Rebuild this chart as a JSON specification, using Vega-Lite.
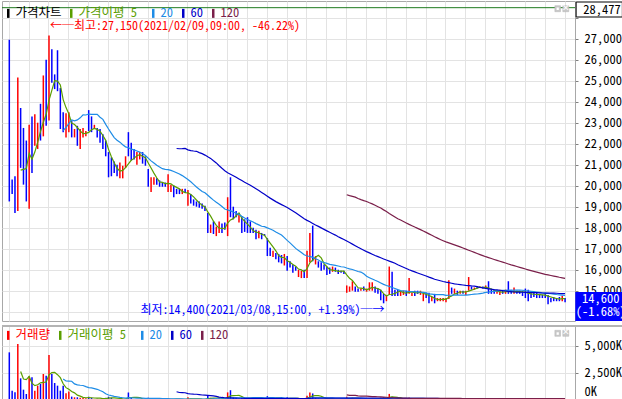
{
"$schema":"https://vega.github.io/schema/vega-lite/v6.json",
"padding":0,
"background":"white",
"spacing":2,
"config":{"view":{"stroke":"#a8a8a8","strokeWidth":1},"font":"Noto Sans Mono CJK KR, Noto Sans CJK KR, sans-serif","axis":{"labelFont":"Noto Sans Mono CJK KR, Noto Sans CJK KR, sans-serif","labelFontSize":12.5,"labelColor":"#000000","labelOverlap":false},"legend":{"labelFont":"Noto Sans Mono CJK KR, Noto Sans CJK KR, sans-serif","labelFontSize":12.5},"text":{"font":"Noto Sans Mono CJK KR, Noto Sans CJK KR, sans-serif","fontSize":12}},
"resolve":{"scale":{"x":"independent","y":"independent","color":"independent"},"legend":{"color":"independent"}},
"datasets":{"c":[
{"i":0,"o":25000,"h":26950,"l":19250,"c":20300,"v":4385},
{"i":1,"o":20200,"h":20300,"l":19600,"c":19700,"v":858},
{"i":2,"o":20100,"h":20450,"l":18700,"c":19000,"v":705},
{"i":3,"o":19100,"h":25150,"l":18800,"c":23400,"v":5152},
{"i":4,"o":23300,"h":23700,"l":20850,"c":21300,"v":1993},
{"i":5,"o":21700,"h":22750,"l":20050,"c":20500,"v":950},
{"i":6,"o":21500,"h":22150,"l":19250,"c":19900,"v":552},
{"i":7,"o":19500,"h":22900,"l":18900,"c":22600,"v":2177},
{"i":8,"o":22700,"h":23300,"l":20600,"c":22000,"v":2085},
{"i":9,"o":22100,"h":23400,"l":21900,"c":23000,"v":858},
{"i":10,"o":22000,"h":23000,"l":21750,"c":22800,"v":1318},
{"i":11,"o":23500,"h":23900,"l":22150,"c":22500,"v":1471},
{"i":12,"o":22600,"h":25250,"l":22350,"c":24800,"v":2392},
{"i":13,"o":25500,"h":26000,"l":22850,"c":23900,"v":2238},
{"i":14,"o":23500,"h":27150,"l":23100,"c":26300,"v":4140},
{"i":15,"o":26300,"h":26500,"l":24900,"c":25200,"v":2392},
{"i":16,"o":25200,"h":25300,"l":24600,"c":24800,"v":1563},
{"i":17,"o":26000,"h":26450,"l":24500,"c":24700,"v":1318},
{"i":18,"o":24600,"h":24650,"l":22700,"c":23000,"v":858},
{"i":19,"o":23300,"h":23500,"l":22550,"c":22800,"v":1318},
{"i":20,"o":22500,"h":23450,"l":22300,"c":23300,"v":625},
{"i":21,"o":22800,"h":23500,"l":22550,"c":23300,"v":781},
{"i":22,"o":23000,"h":23100,"l":22300,"c":22500,"v":312},
{"i":23,"o":22400,"h":22700,"l":22300,"c":22650,"v":250},
{"i":24,"o":22600,"h":22850,"l":21900,"c":22100,"v":250},
{"i":25,"o":21900,"h":22700,"l":21750,"c":22500,"v":200},
{"i":26,"o":22400,"h":22750,"l":22300,"c":22650,"v":180},
{"i":27,"o":22400,"h":22600,"l":22350,"c":22550,"v":150},
{"i":28,"o":23300,"h":23600,"l":22600,"c":22900,"v":300},
{"i":29,"o":23200,"h":23300,"l":22550,"c":22700,"v":200},
{"i":30,"o":22700,"h":22900,"l":22700,"c":22850,"v":100},
{"i":31,"o":22700,"h":22750,"l":22300,"c":22400,"v":120},
{"i":32,"o":22450,"h":22700,"l":22050,"c":22150,"v":100},
{"i":33,"o":22200,"h":22450,"l":21750,"c":21850,"v":150},
{"i":34,"o":21900,"h":22150,"l":21400,"c":21550,"v":200},
{"i":35,"o":21500,"h":21600,"l":20400,"c":20700,"v":300},
{"i":36,"o":21000,"h":21350,"l":20450,"c":20650,"v":200},
{"i":37,"o":21000,"h":21150,"l":20600,"c":20700,"v":100},
{"i":38,"o":20850,"h":21000,"l":20450,"c":20550,"v":90},
{"i":39,"o":20450,"h":21100,"l":20350,"c":20900,"v":80},
{"i":40,"o":20500,"h":20950,"l":20350,"c":20850,"v":80},
{"i":41,"o":20900,"h":21400,"l":20850,"c":21300,"v":100},
{"i":42,"o":22300,"h":22550,"l":21400,"c":21600,"v":690},
{"i":43,"o":21800,"h":22050,"l":21200,"c":21400,"v":200},
{"i":44,"o":21650,"h":21750,"l":21250,"c":21350,"v":100},
{"i":45,"o":21150,"h":21600,"l":21000,"c":21500,"v":80},
{"i":46,"o":21300,"h":21600,"l":21250,"c":21550,"v":60},
{"i":47,"o":21500,"h":21600,"l":21050,"c":21200,"v":60},
{"i":48,"o":21300,"h":21400,"l":20950,"c":21050,"v":50},
{"i":49,"o":20700,"h":20800,"l":19950,"c":20100,"v":200},
{"i":50,"o":19800,"h":20400,"l":19700,"c":20300,"v":150},
{"i":51,"o":20100,"h":20400,"l":20050,"c":20350,"v":60},
{"i":52,"o":20300,"h":20350,"l":20050,"c":20100,"v":40},
{"i":53,"o":20200,"h":20250,"l":19950,"c":20050,"v":30},
{"i":54,"o":20100,"h":20150,"l":19950,"c":20000,"v":30},
{"i":55,"o":20100,"h":20150,"l":19950,"c":20000,"v":30},
{"i":56,"o":19800,"h":20550,"l":19700,"c":20400,"v":150},
{"i":57,"o":19800,"h":20050,"l":19700,"c":20000,"v":60},
{"i":58,"o":19950,"h":20000,"l":19450,"c":19550,"v":80},
{"i":59,"o":19800,"h":19850,"l":19600,"c":19650,"v":40},
{"i":60,"o":19800,"h":19850,"l":19600,"c":19650,"v":40},
{"i":61,"o":19650,"h":19850,"l":19600,"c":19800,"v":60},
{"i":62,"o":19800,"h":19850,"l":19650,"c":19700,"v":30},
{"i":63,"o":19100,"h":19800,"l":19050,"c":19500,"v":250},
{"i":64,"o":19500,"h":19600,"l":19150,"c":19250,"v":120},
{"i":65,"o":19300,"h":19350,"l":19050,"c":19100,"v":80},
{"i":66,"o":19200,"h":19250,"l":19000,"c":19050,"v":60},
{"i":67,"o":19100,"h":19250,"l":18950,"c":19000,"v":50},
{"i":68,"o":19050,"h":19150,"l":18900,"c":18950,"v":60},
{"i":69,"o":19000,"h":19050,"l":18800,"c":18850,"v":50},
{"i":70,"o":18650,"h":18700,"l":17750,"c":17900,"v":400},
{"i":71,"o":17850,"h":18150,"l":17750,"c":18050,"v":200},
{"i":72,"o":18200,"h":18300,"l":17700,"c":17800,"v":150},
{"i":73,"o":17700,"h":18050,"l":17600,"c":17950,"v":120},
{"i":74,"o":17900,"h":18300,"l":17750,"c":18200,"v":150},
{"i":75,"o":18150,"h":18200,"l":17750,"c":17850,"v":100},
{"i":76,"o":18150,"h":18250,"l":17900,"c":18000,"v":60},
{"i":77,"o":17700,"h":19450,"l":17600,"c":19100,"v":700},
{"i":78,"o":19200,"h":20400,"l":18500,"c":18700,"v":900},
{"i":79,"o":18900,"h":19000,"l":18400,"c":18500,"v":250},
{"i":80,"o":18750,"h":18800,"l":18500,"c":18550,"v":150},
{"i":81,"o":18350,"h":18700,"l":18250,"c":18650,"v":120},
{"i":82,"o":18500,"h":18550,"l":17750,"c":17900,"v":200},
{"i":83,"o":18300,"h":18400,"l":17800,"c":17900,"v":150},
{"i":84,"o":18300,"h":18500,"l":17750,"c":17850,"v":180},
{"i":85,"o":18200,"h":18300,"l":17750,"c":17850,"v":120},
{"i":86,"o":17950,"h":18000,"l":17750,"c":17800,"v":80},
{"i":87,"o":17850,"h":17900,"l":17450,"c":17550,"v":150},
{"i":88,"o":17550,"h":17850,"l":17500,"c":17750,"v":100},
{"i":89,"o":17700,"h":17750,"l":17450,"c":17500,"v":80},
{"i":90,"o":17700,"h":17700,"l":17600,"c":17600,"v":50},
{"i":91,"o":17450,"h":17500,"l":16650,"c":16800,"v":350},
{"i":92,"o":16950,"h":17050,"l":16650,"c":16700,"v":200},
{"i":93,"o":16650,"h":16900,"l":16600,"c":16850,"v":120},
{"i":94,"o":16750,"h":16800,"l":16500,"c":16550,"v":100},
{"i":95,"o":16650,"h":16750,"l":16350,"c":16450,"v":120},
{"i":96,"o":16500,"h":16700,"l":16300,"c":16400,"v":100},
{"i":97,"o":16300,"h":16750,"l":16200,"c":16650,"v":120},
{"i":98,"o":16550,"h":16650,"l":15950,"c":16100,"v":250},
{"i":99,"o":16350,"h":16400,"l":16100,"c":16150,"v":120},
{"i":100,"o":16200,"h":16250,"l":15850,"c":15950,"v":150},
{"i":101,"o":16100,"h":16150,"l":15950,"c":16000,"v":80},
{"i":102,"o":15700,"h":16000,"l":15650,"c":15950,"v":120},
{"i":103,"o":15650,"h":15950,"l":15600,"c":15900,"v":100},
{"i":104,"o":15950,"h":16000,"l":15600,"c":15700,"v":80},
{"i":105,"o":15700,"h":16900,"l":15600,"c":16700,"v":400},
{"i":106,"o":16600,"h":17750,"l":16350,"c":17400,"v":700},
{"i":107,"o":17500,"h":18100,"l":16400,"c":16600,"v":600},
{"i":108,"o":16350,"h":16650,"l":16250,"c":16550,"v":200},
{"i":109,"o":16350,"h":16400,"l":16100,"c":16200,"v":120},
{"i":110,"o":16300,"h":16350,"l":15950,"c":16050,"v":100},
{"i":111,"o":16200,"h":16250,"l":16000,"c":16050,"v":60},
{"i":112,"o":16100,"h":16150,"l":15750,"c":15850,"v":150},
{"i":113,"o":16050,"h":16100,"l":15800,"c":15850,"v":100},
{"i":114,"o":15950,"h":16150,"l":15900,"c":16100,"v":80},
{"i":115,"o":16050,"h":16100,"l":15900,"c":15950,"v":60},
{"i":116,"o":15950,"h":16000,"l":15800,"c":15850,"v":60},
{"i":117,"o":15950,"h":15950,"l":15850,"c":15900,"v":40},
{"i":118,"o":15900,"h":15950,"l":15800,"c":15850,"v":50},
{"i":119,"o":14950,"h":15250,"l":14900,"c":15200,"v":300},
{"i":120,"o":15000,"h":15200,"l":14950,"c":15150,"v":150},
{"i":121,"o":15050,"h":15450,"l":15000,"c":15350,"v":200},
{"i":122,"o":15150,"h":15200,"l":14950,"c":15000,"v":100},
{"i":123,"o":15050,"h":15100,"l":14950,"c":15000,"v":60},
{"i":124,"o":15000,"h":15100,"l":15000,"c":15100,"v":50},
{"i":125,"o":15150,"h":15200,"l":15000,"c":15050,"v":50},
{"i":126,"o":15000,"h":15100,"l":14950,"c":15050,"v":80},
{"i":127,"o":15050,"h":15400,"l":15000,"c":15300,"v":150},
{"i":128,"o":15100,"h":15400,"l":15000,"c":15300,"v":120},
{"i":129,"o":15150,"h":15200,"l":14900,"c":14950,"v":100},
{"i":130,"o":15050,"h":15100,"l":14850,"c":14900,"v":120},
{"i":131,"o":14950,"h":15050,"l":14550,"c":14650,"v":200},
{"i":132,"o":14800,"h":14850,"l":14400,"c":14500,"v":250},
{"i":133,"o":14550,"h":14800,"l":14500,"c":14750,"v":150},
{"i":134,"o":14800,"h":16150,"l":14800,"c":15300,"v":560},
{"i":135,"o":15600,"h":15900,"l":14750,"c":14950,"v":300},
{"i":136,"o":15000,"h":15050,"l":14750,"c":14850,"v":100},
{"i":137,"o":15000,"h":15050,"l":14750,"c":14850,"v":80},
{"i":138,"o":14800,"h":15000,"l":14750,"c":14950,"v":60},
{"i":139,"o":14850,"h":15000,"l":14800,"c":14950,"v":60},
{"i":140,"o":14950,"h":15000,"l":14750,"c":14800,"v":100},
{"i":141,"o":14850,"h":15600,"l":14850,"c":15100,"v":230},
{"i":142,"o":14800,"h":14900,"l":14750,"c":14900,"v":80},
{"i":143,"o":14950,"h":15000,"l":14750,"c":14800,"v":60},
{"i":144,"o":14950,"h":15000,"l":14850,"c":14900,"v":50},
{"i":145,"o":14850,"h":15000,"l":14800,"c":14950,"v":50},
{"i":146,"o":14550,"h":14850,"l":14500,"c":14800,"v":60},
{"i":147,"o":14850,"h":14900,"l":14650,"c":14700,"v":50},
{"i":148,"o":14850,"h":14900,"l":14400,"c":14500,"v":80},
{"i":149,"o":14550,"h":14700,"l":14500,"c":14650,"v":40},
{"i":150,"o":14800,"h":14850,"l":14400,"c":14500,"v":70},
{"i":151,"o":14500,"h":14650,"l":14500,"c":14600,"v":40},
{"i":152,"o":14550,"h":14650,"l":14500,"c":14600,"v":30},
{"i":153,"o":14550,"h":14650,"l":14500,"c":14650,"v":30},
{"i":154,"o":14500,"h":14650,"l":14450,"c":14600,"v":40},
{"i":155,"o":14650,"h":15500,"l":14600,"c":15000,"v":180},
{"i":156,"o":15100,"h":15150,"l":14850,"c":14900,"v":80},
{"i":157,"o":14900,"h":15100,"l":14850,"c":15050,"v":60},
{"i":158,"o":14950,"h":15000,"l":14800,"c":14850,"v":40},
{"i":159,"o":14850,"h":15000,"l":14850,"c":14950,"v":40},
{"i":160,"o":14950,"h":15000,"l":14850,"c":14900,"v":30},
{"i":161,"o":14850,"h":15000,"l":14800,"c":14950,"v":30},
{"i":162,"o":15000,"h":15650,"l":15000,"c":15250,"v":150},
{"i":163,"o":15200,"h":15200,"l":15050,"c":15100,"v":60},
{"i":164,"o":15100,"h":15150,"l":15050,"c":15150,"v":40},
{"i":165,"o":15200,"h":15200,"l":15100,"c":15150,"v":30},
{"i":166,"o":15150,"h":15200,"l":15150,"c":15200,"v":30},
{"i":167,"o":15200,"h":15200,"l":15100,"c":15150,"v":30},
{"i":168,"o":15150,"h":15250,"l":15150,"c":15200,"v":30},
{"i":169,"o":15250,"h":15450,"l":14850,"c":14950,"v":120},
{"i":170,"o":15000,"h":15100,"l":14850,"c":14900,"v":60},
{"i":171,"o":15000,"h":15050,"l":14850,"c":14900,"v":40},
{"i":172,"o":14900,"h":15000,"l":14850,"c":14950,"v":40},
{"i":173,"o":14850,"h":15050,"l":14800,"c":15000,"v":40},
{"i":174,"o":15000,"h":15000,"l":14850,"c":14900,"v":30},
{"i":175,"o":14900,"h":15050,"l":14850,"c":15000,"v":30},
{"i":176,"o":15100,"h":15450,"l":14850,"c":14950,"v":100},
{"i":177,"o":15000,"h":15050,"l":14850,"c":14900,"v":50},
{"i":178,"o":14900,"h":15150,"l":14850,"c":15050,"v":40},
{"i":179,"o":15000,"h":15000,"l":14850,"c":14950,"v":30},
{"i":180,"o":15000,"h":15000,"l":14850,"c":14950,"v":40},
{"i":181,"o":14950,"h":15000,"l":14750,"c":14850,"v":60},
{"i":182,"o":14950,"h":15100,"l":14650,"c":14850,"v":30},
{"i":183,"o":14900,"h":15050,"l":14500,"c":14800,"v":90},
{"i":184,"o":14850,"h":14900,"l":14650,"c":14800,"v":50},
{"i":185,"o":14900,"h":14900,"l":14700,"c":14850,"v":30},
{"i":186,"o":14850,"h":14900,"l":14650,"c":14800,"v":30},
{"i":187,"o":14850,"h":14850,"l":14650,"c":14800,"v":40},
{"i":188,"o":14800,"h":14800,"l":14650,"c":14750,"v":30},
{"i":189,"o":14800,"h":14850,"l":14650,"c":14750,"v":30},
{"i":190,"o":14750,"h":14800,"l":14350,"c":14600,"v":80},
{"i":191,"o":14650,"h":14650,"l":14450,"c":14600,"v":40},
{"i":192,"o":14650,"h":14700,"l":14500,"c":14600,"v":30},
{"i":193,"o":14650,"h":14650,"l":14500,"c":14600,"v":30},
{"i":194,"o":14650,"h":14700,"l":14500,"c":14600,"v":40},
{"i":195,"o":14550,"h":14750,"l":14500,"c":14700,"v":30},
{"i":196,"o":14650,"h":14650,"l":14450,"c":14600,"v":40}
]},
"vconcat":[
{
"width":573,"height":320,
"layer":[
{"data":{"name":"c"},"mark":{"type":"rule","strokeWidth":1.5},
 "encoding":{
  "x":{"field":"i","type":"quantitative","scale":{"domain":[-2.575,199.5],"nice":false,"zero":false},"axis":{"values":[-0.2,6.8,13.8,20.8,27.8,34.8,41.8,48.8,55.8,62.8,69.8,76.8,83.8,90.8,97.8,104.8,111.8,118.8,125.8,132.8,139.8,146.8,153.8,160.8,167.8,174.8,181.8,188.8,195.8],"tickCount":60,"grid":true,"gridColor":"#e3e3e3","labels":false,"ticks":false,"domain":false,"title":null}},
  "y":{"field":"l","type":"quantitative","scale":{"domain":[13557,28795],"nice":false,"zero":false},"axis":{"orient":"right","values":[14000,15000,16000,17000,18000,19000,20000,21000,22000,23000,24000,25000,26000,27000,28000],"tickCount":40,"labelExpr":"datum.value>=15000 && datum.value<=27000 ? format(datum.value, ',') : ''","labelOverlap":false,"grid":true,"gridColor":"#e3e3e3","tickSize":3,"tickColor":"#808080","domain":false,"labelPadding":6,"title":null}},
  "y2":{"field":"h"},
  "color":{"condition":{"test":"datum.c >= datum.o","value":"#ff0000"},"value":"#0000ff"}}},
{"data":{"values":[{}]},"mark":{"type":"rule","color":"#1f7a1f","strokeWidth":1},"encoding":{"y":{"datum":28477}}},
{"data":{"name":"c"},"transform":[{"window":[{"op":"mean","field":"c","as":"m"}],"frame":[-4,0],"sort":[{"field":"i"}]},{"filter":{"field":"i","gte":4}}],
 "mark":{"type":"line","strokeWidth":1.2},
 "encoding":{"x":{"field":"i","type":"quantitative"},"y":{"field":"m","type":"quantitative"},
  "color":{"datum":"가격이평  5","type":"nominal","scale":{"domain":["가격차트","가격이평  5","20","60","120"],"range":["#000000","#5a9e00","#1e8ce6","#0000c8","#7a1f4a"]},
   "legend":{"title":null,"orient":"none","legendX":0,"legendY":6,"direction":"horizontal","padding":0,"symbolType":"M0,-1L0,1","symbolSize":81,"symbolStrokeWidth":2.5,"labelOffset":1,"columnPadding":3,"labelFontSize":12.5,
   "labelColor":{"expr":"datum.value=='가격차트' ? '#000000' : datum.value=='가격이평  5' ? '#5a9e00' : datum.value=='20' ? '#1e8ce6' : datum.value=='60' ? '#0000c8' : '#7a1f4a'"}}}}},
{"data":{"name":"c"},"transform":[{"window":[{"op":"mean","field":"c","as":"m"}],"frame":[-19,0],"sort":[{"field":"i"}]},{"filter":{"field":"i","gte":19}}],
 "mark":{"type":"line","strokeWidth":1.2},
 "encoding":{"x":{"field":"i","type":"quantitative"},"y":{"field":"m","type":"quantitative"},"color":{"datum":"20","type":"nominal"}}},
{"data":{"name":"c"},"transform":[{"window":[{"op":"mean","field":"c","as":"m"}],"frame":[-59,0],"sort":[{"field":"i"}]},{"filter":{"field":"i","gte":59}}],
 "mark":{"type":"line","strokeWidth":1.2},
 "encoding":{"x":{"field":"i","type":"quantitative"},"y":{"field":"m","type":"quantitative"},"color":{"datum":"60","type":"nominal"}}},
{"data":{"name":"c"},"transform":[{"window":[{"op":"mean","field":"c","as":"m"}],"frame":[-119,0],"sort":[{"field":"i"}]},{"filter":{"field":"i","gte":119}}],
 "mark":{"type":"line","strokeWidth":1.2},
 "encoding":{"x":{"field":"i","type":"quantitative"},"y":{"field":"m","type":"quantitative"},"color":{"datum":"120","type":"nominal"}}},
{"data":{"values":[{"i":14,"p":27150,"t":"←─최고:27,150(2021/02/09,09:00, -46.22%)"}]},
 "mark":{"type":"text","align":"left","baseline":"middle","dx":1,"dy":-10,"fontSize":12,"color":"#ff0000"},
 "encoding":{"x":{"field":"i","type":"quantitative"},"y":{"field":"p","type":"quantitative"},"text":{"field":"t"}}},
{"data":{"values":[{"i":132,"p":14400,"t":"최저:14,400(2021/03/08,15:00, +1.39%)─→"}]},
 "mark":{"type":"text","align":"right","baseline":"middle","dx":1,"dy":7,"fontSize":12,"color":"#0000ff"},
 "encoding":{"x":{"field":"i","type":"quantitative"},"y":{"field":"p","type":"quantitative"},"text":{"field":"t"}}},
{"data":{"values":[{}]},"mark":{"type":"rect","fill":"#ffffff","stroke":"#000000","strokeWidth":1},
 "encoding":{"x":{"datum":199.9},"x2":{"datum":216.2},"y":{"datum":28747},"y2":{"datum":28033}}},
{"data":{"values":[{}]},"mark":{"type":"text","align":"right","baseline":"middle","color":"#000000","fontSize":12.5},
 "encoding":{"x":{"datum":215.6},"y":{"datum":28390},"text":{"value":"28,477"}}},
{"data":{"values":[{}]},"mark":{"type":"rect","fill":"#0000ff"},
 "encoding":{"x":{"datum":199.6},"x2":{"datum":217.2},"y":{"datum":14938},"y2":{"datum":13557}}},
{"data":{"values":[{}]},"mark":{"type":"text","align":"center","baseline":"middle","color":"#ffffff","fontSize":12.5,"lineHeight":13},
 "encoding":{"x":{"datum":208.6},"y":{"datum":14600},"text":{"value":["14,600","(-1.68%)"]}}},
{"data":{"values":[{"a":192.4,"b":194.4},{"a":195.2,"b":197.3}]},"mark":{"type":"rect","fill":"#c8c8c8","stroke":"#b4b4b4","strokeWidth":0.5},
 "encoding":{"x":{"field":"a","type":"quantitative"},"x2":{"field":"b"},"y":{"datum":28571},"y2":{"datum":28285}}},
{"data":{"values":[{}]},"mark":{"type":"rect","fill":"#ffffff"},
 "encoding":{"x":{"datum":193.0},"x2":{"datum":193.8},"y":{"datum":28485},"y2":{"datum":28366}}},
{"data":{"values":[{}]},"mark":{"type":"text","align":"center","baseline":"middle","color":"#ffffff","fontSize":8,"fontWeight":"bold"},
 "encoding":{"x":{"datum":196.25},"y":{"datum":28428},"text":{"value":"×"}}}
]
},
{
"width":573,"height":74,
"layer":[
{"data":{"name":"c"},"mark":{"type":"rule","strokeWidth":1.5},
 "encoding":{
  "x":{"field":"i","type":"quantitative","scale":{"domain":[-2.575,199.5],"nice":false,"zero":false},"axis":{"values":[-0.2,6.8,13.8,20.8,27.8,34.8,41.8,48.8,55.8,62.8,69.8,76.8,83.8,90.8,97.8,104.8,111.8,118.8,125.8,132.8,139.8,146.8,153.8,160.8,167.8,174.8,181.8,188.8,195.8],"tickCount":60,"grid":true,"gridColor":"#e3e3e3","labels":false,"ticks":false,"domain":false,"title":null}},
  "y":{"field":"v","type":"quantitative","scale":{"domain":[0,6808],"nice":false,"zero":false},"axis":{"orient":"right","values":[0,2500,5000],"tickCount":10,"labelExpr":"format(datum.value, ',') + 'K'","labelOverlap":false,"grid":true,"gridColor":"#e3e3e3","tickSize":3,"tickColor":"#808080","domain":false,"labelPadding":6,"labelFlush":true,"labelFlushOffset":-2,"title":null}},
  "y2":{"datum":0},
  "color":{"condition":{"test":"datum.c >= datum.o","value":"#ff0000"},"value":"#0000ff"}}},
{"data":{"values":[{}]},"mark":{"type":"rule","color":"#b4b4b4","strokeWidth":2},"encoding":{"x":{"datum":-2.575},"x2":{"datum":217.2},"y":{"datum":6808}}},
{"data":{"name":"c"},"transform":[{"window":[{"op":"mean","field":"v","as":"m"}],"frame":[-4,0],"sort":[{"field":"i"}]},{"filter":{"field":"i","gte":4}}],
 "mark":{"type":"line","strokeWidth":1.2},
 "encoding":{"x":{"field":"i","type":"quantitative"},"y":{"field":"m","type":"quantitative"},
  "color":{"datum":"거래이평  5","type":"nominal","scale":{"domain":["거래량","거래이평  5","20","60","120"],"range":["#ff0000","#5a9e00","#1e8ce6","#0000c8","#7a1f4a"]},
   "legend":{"title":null,"orient":"none","legendX":0,"legendY":3,"direction":"horizontal","padding":0,"symbolType":"M0,-1L0,1","symbolSize":81,"symbolStrokeWidth":2.5,"labelOffset":1,"columnPadding":3,"labelFontSize":12.5,
   "labelColor":{"expr":"datum.value=='거래량' ? '#ff0000' : datum.value=='거래이평  5' ? '#5a9e00' : datum.value=='20' ? '#1e8ce6' : datum.value=='60' ? '#0000c8' : '#7a1f4a'"}}}}},
{"data":{"name":"c"},"transform":[{"window":[{"op":"mean","field":"v","as":"m"}],"frame":[-19,0],"sort":[{"field":"i"}]},{"filter":{"field":"i","gte":19}}],
 "mark":{"type":"line","strokeWidth":1.2},
 "encoding":{"x":{"field":"i","type":"quantitative"},"y":{"field":"m","type":"quantitative"},"color":{"datum":"20","type":"nominal"}}},
{"data":{"name":"c"},"transform":[{"window":[{"op":"mean","field":"v","as":"m"}],"frame":[-59,0],"sort":[{"field":"i"}]},{"filter":{"field":"i","gte":59}}],
 "mark":{"type":"line","strokeWidth":1.2},
 "encoding":{"x":{"field":"i","type":"quantitative"},"y":{"field":"m","type":"quantitative"},"color":{"datum":"60","type":"nominal"}}},
{"data":{"name":"c"},"transform":[{"window":[{"op":"mean","field":"v","as":"m"}],"frame":[-119,0],"sort":[{"field":"i"}]},{"filter":{"field":"i","gte":119}}],
 "mark":{"type":"line","strokeWidth":1.2},
 "encoding":{"x":{"field":"i","type":"quantitative"},"y":{"field":"m","type":"quantitative"},"color":{"datum":"120","type":"nominal"}}},
{"data":{"values":[{"a":192.4,"b":194.4},{"a":195.2,"b":197.3}]},"mark":{"type":"rect","fill":"#c8c8c8","stroke":"#b4b4b4","strokeWidth":0.5},
 "encoding":{"x":{"field":"a","type":"quantitative"},"x2":{"field":"b"},"y":{"datum":6412},"y2":{"datum":5860}}},
{"data":{"values":[{}]},"mark":{"type":"rect","fill":"#ffffff"},
 "encoding":{"x":{"datum":193.0},"x2":{"datum":193.8},"y":{"datum":6228},"y2":{"datum":5998}}},
{"data":{"values":[{}]},"mark":{"type":"text","align":"center","baseline":"middle","color":"#ffffff","fontSize":8,"fontWeight":"bold"},
 "encoding":{"x":{"datum":196.25},"y":{"datum":6136},"text":{"value":"×"}}}
]
}
]
}
